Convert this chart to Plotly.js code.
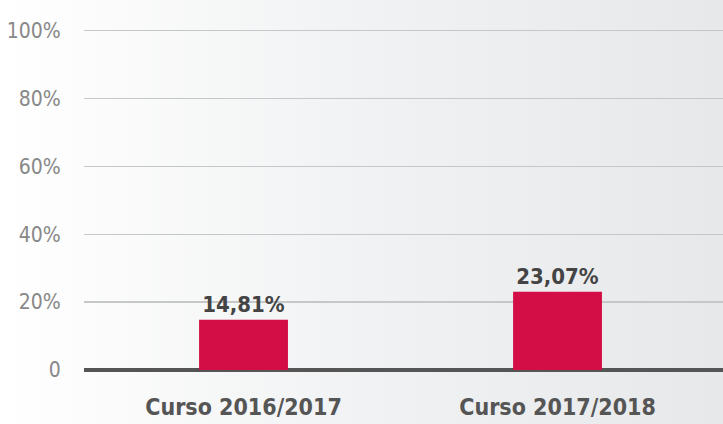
<!DOCTYPE html>
<html>
<head>
<meta charset="utf-8">
<script src="https://cdn.plot.ly/plotly-3.0.1.min.js"></script>
<style>
  html, body { margin:0; padding:0; }
  body { width:723px; height:424px; overflow:hidden;
         background: linear-gradient(to right, #ffffff 0%, #f1f2f3 50%, #e7e8ea 100%); }
  #chart { width:723px; height:424px; }
</style>
</head>
<body>
<div id="chart"></div>
<script>
const categories = ['Curso 2016/2017', 'Curso 2017/2018'];
const values = [14.81, 23.07];
const tickVals = [0, 20, 40, 60, 80, 100];
const tickText = ['0', '20%', '40%', '60%', '80%', '100%'];

const FONT = '"DejaVu Sans Condensed", "Liberation Sans", Arial, sans-serif';

const trace = {
  type: 'bar',
  x: categories,
  y: values,
  width: 0.283,
  marker: { color: '#d30d45' },
  text: values.map(v => v.toFixed(2).replace('.', ',') + '%'),
  textposition: 'outside',
  textfont: { family: FONT, size: 22, color: '#444444', weight: 'bold' },
  cliponaxis: false,
  hoverinfo: 'none'
};

const layout = {
  width: 723, height: 424,
  margin: { l: 84, r: 0, t: 29, b: 54 },
  paper_bgcolor: 'rgba(0,0,0,0)',
  plot_bgcolor: 'rgba(0,0,0,0)',
  showlegend: false,
  xaxis: {
    range: [-0.508, 1.527],
    showgrid: false, zeroline: false, showline: false,
    ticks: 'outside', ticklen: 16, tickcolor: 'rgba(0,0,0,0)',
    tickfont: { family: FONT, size: 23, color: '#555555', weight: 'bold' }
  },
  yaxis: {
    range: [0, 100.5],
    tickvals: tickVals, ticktext: tickText,
    showgrid: true, gridcolor: '#c6c7c9', gridwidth: 1.5,
    zeroline: true, zerolinecolor: '#555555', zerolinewidth: 4,
    showline: false,
    ticks: 'outside', ticklen: 18, tickcolor: 'rgba(0,0,0,0)',
    tickfont: { family: FONT, size: 21, color: '#888888' }
  }
};

Plotly.newPlot('chart', [trace], layout, { displayModeBar: false, staticPlot: true });
</script>
</body>
</html>
